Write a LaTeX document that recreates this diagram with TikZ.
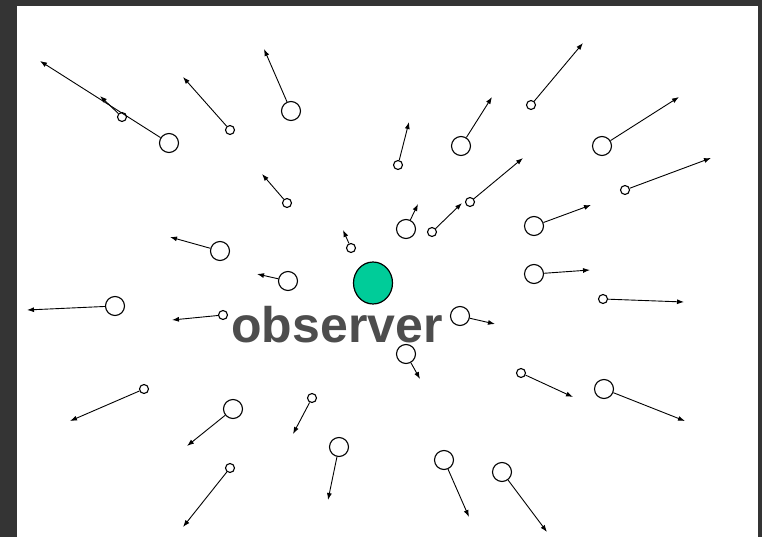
\documentclass[tikz,border=0pt]{standalone}
\usepackage{fontspec}
\setsansfont{Liberation Sans}
\usetikzlibrary{shapes.geometric, arrows.meta, positioning}
\definecolor{obsgreen}{RGB}{0,204,153}
\definecolor{frame}{RGB}{52,52,52}
\definecolor{labelgray}{RGB}{77,77,77}
\tikzset{
    far/.style={draw, circle, line width=1.1pt, minimum size=19pt, inner sep=0pt, fill=white},
    near/.style={draw, circle, line width=1.1pt, minimum size=9pt, inner sep=0pt, fill=white},
    recede/.style={draw, -{Latex[length=7pt, width=5pt]}, line width=0.9pt, color=black},
    observer/.style={draw, ellipse, fill=obsgreen, line width=1.2pt, minimum width=39pt, minimum height=42pt, inner sep=0pt},
    caption/.style={font=\fontsize{50}{60}\selectfont\sffamily\bfseries, text=labelgray, inner sep=0pt, anchor=base}
}

\begin{document}
\begin{tikzpicture}[x=1pt, y=-1pt]
    \useasboundingbox (0,0) rectangle (762,537);
    \fill [frame] (0,0) rectangle (762,537);
    \fill [white] (17,6) rectangle (758,537);

    % galaxies, upper left
    \node [near] (g1) at (122,117) {};  \coordinate (t1) at (100,96);
    \node [far]  (g2) at (169,143) {};  \coordinate (t2) at (40,61);
    \node [near] (g3) at (230,130) {};  \coordinate (t3) at (183,77);
    \node [far]  (g4) at (291,111) {};  \coordinate (t4) at (264,49);
    \node [near] (g5) at (287,203) {};  \coordinate (t5) at (262,174);
    \node [far]  (g6) at (220,251) {};  \coordinate (t6) at (170,237);
    \node [near] (g7) at (351,248) {};  \coordinate (t7) at (343,230);

    % galaxies, upper right
    \node [near] (g8) at (398,165) {};  \coordinate (t8) at (409,122);
    \node [far]  (g9) at (461,146) {};  \coordinate (t9) at (492,97);
    \node [near] (g10) at (531,105) {}; \coordinate (t10) at (583,43);
    \node [far]  (g11) at (602,146) {}; \coordinate (t11) at (679,97);
    \node [near] (g12) at (625,190) {}; \coordinate (t12) at (711,158);
    \node [near] (g13) at (470,202) {}; \coordinate (t13) at (523,158);
    \node [near] (g14) at (432,232) {}; \coordinate (t14) at (462,203);
    \node [far]  (g15) at (406,229) {}; \coordinate (t15) at (418,204);
    \node [far]  (g16) at (534,226) {}; \coordinate (t16) at (591,205);

    % galaxies, lower left
    \node [far]  (g17) at (288,281) {}; \coordinate (t17) at (257,274);
    \node [far]  (g18) at (115,306) {}; \coordinate (t18) at (27,310);
    \node [near] (g19) at (223,315) {}; \coordinate (t19) at (172,320);
    \node [near] (g20) at (144,389) {}; \coordinate (t20) at (70,421);
    \node [far]  (g21) at (233,409) {}; \coordinate (t21) at (187,446);
    \node [near] (g22) at (312,398) {}; \coordinate (t22) at (293,434);
    \node [far]  (g23) at (339,447) {}; \coordinate (t23) at (328,500);
    \node [near] (g24) at (230,468) {}; \coordinate (t24) at (183,527);

    % galaxies, lower right
    \node [far]  (g25) at (534,274) {}; \coordinate (t25) at (590,270);
    \node [near] (g26) at (603,299) {}; \coordinate (t26) at (684,302);
    \node [far]  (g27) at (460,316) {}; \coordinate (t27) at (495,324);
    \node [far]  (g28) at (406,354) {}; \coordinate (t28) at (420,379);
    \node [near] (g29) at (521,373) {}; \coordinate (t29) at (573,397);
    \node [far]  (g30) at (604,389) {}; \coordinate (t30) at (685,421);
    \node [far]  (g31) at (444,460) {}; \coordinate (t31) at (469,517);
    \node [far]  (g32) at (502,472) {}; \coordinate (t32) at (547,532);

    \draw [recede] (g1) -- (t1);
    \draw [recede] (g2) -- (t2);
    \draw [recede] (g3) -- (t3);
    \draw [recede] (g4) -- (t4);
    \draw [recede] (g5) -- (t5);
    \draw [recede] (g6) -- (t6);
    \draw [recede] (g7) -- (t7);
    \draw [recede] (g8) -- (t8);
    \draw [recede] (g9) -- (t9);
    \draw [recede] (g10) -- (t10);
    \draw [recede] (g11) -- (t11);
    \draw [recede] (g12) -- (t12);
    \draw [recede] (g13) -- (t13);
    \draw [recede] (g14) -- (t14);
    \draw [recede] (g15) -- (t15);
    \draw [recede] (g16) -- (t16);
    \draw [recede] (g17) -- (t17);
    \draw [recede] (g18) -- (t18);
    \draw [recede] (g19) -- (t19);
    \draw [recede] (g20) -- (t20);
    \draw [recede] (g21) -- (t21);
    \draw [recede] (g22) -- (t22);
    \draw [recede] (g23) -- (t23);
    \draw [recede] (g24) -- (t24);
    \draw [recede] (g25) -- (t25);
    \draw [recede] (g26) -- (t26);
    \draw [recede] (g27) -- (t27);
    \draw [recede] (g28) -- (t28);
    \draw [recede] (g29) -- (t29);
    \draw [recede] (g30) -- (t30);
    \draw [recede] (g31) -- (t31);
    \draw [recede] (g32) -- (t32);

    % the observer
    \node [observer] (obs) at (373,283) {};
    \node [caption] (name) at (337,342) {observer};
\end{tikzpicture}
\end{document}
